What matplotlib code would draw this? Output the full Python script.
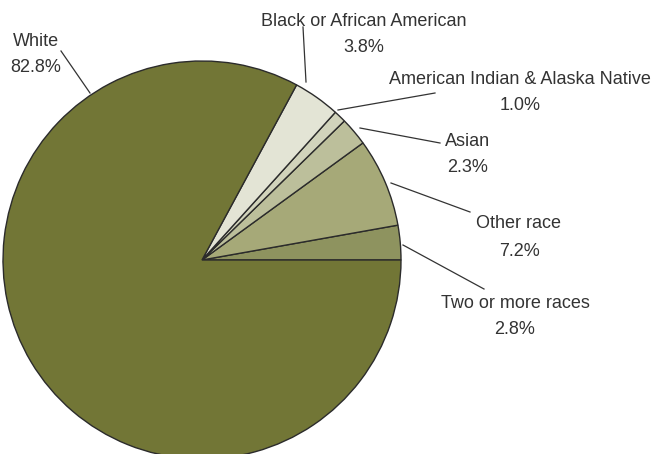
import matplotlib
matplotlib.use('Agg')
import matplotlib.pyplot as plt

# data
labels = ['Two or more races', 'Other race', 'Asian',
          'American Indian & Alaska Native', 'Black or African American', 'White']
shares = [2.8, 7.2, 2.3, 1.0, 3.8, 82.8]
colors = ['#8e935f', '#a6a978', '#bcbf9b', '#d1d3bb', '#e3e4d5', '#727636']

# label layout, in pixels from top-left (text centre, leader start, leader end)
text_xy = [(515, 303), (519, 224), (468, 141), (520, 79), (364, 21), (36, 41)]
line_from = [(403, 245), (391, 183), (360, 128), (338, 110), (306, 82), (90, 93)]
line_to = [(484, 289), (470, 212), (440, 143), (435, 93), (303, 27), (61, 51)]

W, H = 664, 454
plt.rcParams['font.family'] = ['Liberation Sans', 'DejaVu Sans']

fig = plt.figure(figsize=(W / 100, H / 100), dpi=100)
ax = fig.add_axes([0, 0, 1, 1])

cx, cy, r = 202, H - 260, 199
ax.pie(shares, colors=colors, startangle=0, counterclock=True,
       center=(cx, cy), radius=r, frame=True,
       wedgeprops=dict(edgecolor='#2b2b2b', linewidth=1.0))
ax.set_xlim(0, W)
ax.set_ylim(0, H)
ax.set_aspect('equal')
ax.axis('off')

for lab, val, (tx, ty), p0, p1 in zip(labels, shares, text_xy, line_from, line_to):
    ax.plot([p0[0], p1[0]], [H - p0[1], H - p1[1]], color='#333333', lw=0.9)
    ax.text(tx, H - ty, lab, ha='center', va='center', fontsize=13, color='#333333')
    ax.text(tx, H - ty - 27, '%.1f%%' % val, ha='center', va='center',
            fontsize=13, color='#333333')

fig.savefig('out.png', dpi=100)
